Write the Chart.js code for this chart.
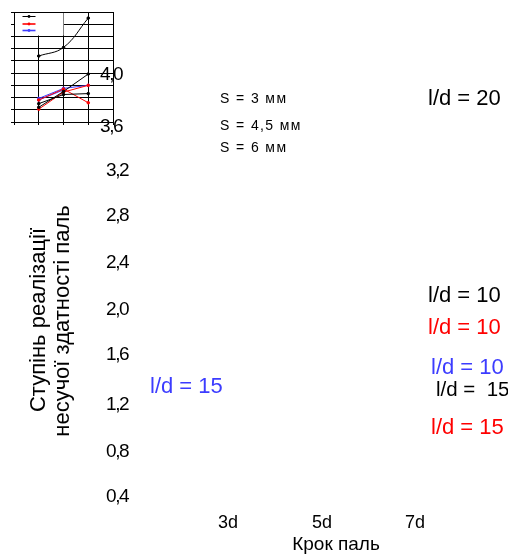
<!DOCTYPE html>
<html>
<head>
<meta charset="utf-8">
<script src="https://cdn.jsdelivr.net/npm/chart.js@4"></script>
<style>
  html, body { margin: 0; padding: 0; background: #fff; }
  #wrap { position: relative; width: 508px; height: 555px; }
</style>
</head>
<body>
<div id="wrap"><canvas id="graph1" width="508" height="555"></canvas></div>
<script>
// pile spacing (in d) and values
const steps = [3, 5, 7];
const blackLd20 = [2.56, 2.84, 3.80];
const blackLd10 = [0.88, 1.40, 1.97];
const blackLd15 = [1.00, 1.30, 1.33];
const redLd10 = [0.82, 1.38, 1.60];
const redLd15 = [1.12, 1.48, 1.03];
const blueLd10 = [1.17, 1.50, 1.60];
const blueLd15 = [1.12, 1.45];

const xGrid = [1, 3, 5, 7, 9];
const yGrid = [0.4, 0.8, 1.2, 1.6, 2.0, 2.4, 2.8, 3.2, 3.6, 4.0];
const yTickLabels = ['4,0', '3,6', '3,2', '2,8', '2,4', '2,0', '1,6', '1,2', '0,8', '0,4'];
const xTickLabels = ['3d', '5d', '7d'];
const legendNames = ['S = 3 мм', 'S = 4,5 мм', 'S = 6 мм'];

const BLACK = '#000000', RED = '#ff0000', BLUE = '#3c3cff';
const FONT = '"Liberation Sans", Arial, sans-serif';

function pts(vals) {
  return vals.map((v, i) => ({ x: steps[i], y: v }));
}

function series(vals, color, tension) {
  return {
    data: pts(vals),
    borderColor: color,
    backgroundColor: color,
    borderWidth: 1,
    pointRadius: 1.3,
    pointHoverRadius: 1.3,
    tension: tension || 0
  };
}

// texts sit where the original layout put them
const textPlugin = {
  id: 'texts',
  afterDraw(chart) {
    const ctx = chart.ctx;
    ctx.save();
    ctx.textBaseline = 'middle';
    ctx.fillStyle = BLACK;
    ctx.font = '19px ' + FONT;
    ctx.textAlign = 'right';
    ctx.letterSpacing = '-1.5px';
    const yPos = [75, 127, 171, 216, 263, 310, 355, 405, 452, 497];
    yTickLabels.forEach((t, i) => {
      ctx.fillText(t, i < 2 ? 122 : 128, yPos[i]);
    });
    ctx.letterSpacing = '0px';
    ctx.textAlign = 'center';
    ctx.font = '18px ' + FONT;
    const xPos = [228, 322, 415];
    xTickLabels.forEach((t, i) => ctx.fillText(t, xPos[i], 523));
    ctx.font = '19px ' + FONT;
    ctx.fillText('Крок паль', 336, 545);

    ctx.font = '22px ' + FONT;
    ctx.save();
    ctx.translate(39, 320);
    ctx.rotate(-Math.PI / 2);
    ctx.fillText('Ступінь реалізації', 0, 0);
    ctx.restore();
    ctx.save();
    ctx.translate(63, 321);
    ctx.rotate(-Math.PI / 2);
    ctx.fillText('несучої здатності паль', 0, 0);
    ctx.restore();

    ctx.textAlign = 'left';
    ctx.font = '14px ' + FONT;
    ctx.letterSpacing = '1.4px';
    ctx.fillText(legendNames[0], 220, 99);
    ctx.fillText(legendNames[1], 220, 126);
    ctx.fillText(legendNames[2], 220, 148);
    ctx.letterSpacing = '0px';

    const notes = [
      ['l/d = 20', 428, 99, BLACK, 22],
      ['l/d = 10', 428, 296, BLACK, 22],
      ['l/d = 10', 428, 328, RED, 22],
      ['l/d = 10', 431, 368, BLUE, 22],
      ['l/d =  15', 436, 390, BLACK, 20.5],
      ['l/d = 15', 431, 428, RED, 22],
      ['l/d = 15', 150, 387, BLUE, 22]
    ];
    notes.forEach(n => {
      ctx.font = n[4] + 'px ' + FONT;
      ctx.fillStyle = n[3];
      ctx.fillText(n[0], n[1], n[2]);
    });
    ctx.restore();
  }
};

// small legend box in the upper left corner of the plot
const legendBox = {
  id: 'legendBox',
  afterDatasetsDraw(chart) {
    const ctx = chart.ctx;
    const xs = chart.scales.x, ys = chart.scales.y;
    const l = xs.getPixelForValue(1), r = xs.getPixelForValue(5);
    const t = ys.getPixelForValue(4.0), b = ys.getPixelForValue(3.2);
    ctx.save();
    ctx.fillStyle = '#fff';
    ctx.fillRect(Math.round(l) + 1, Math.round(t) + 1, Math.round(r - l) - 1.5, Math.round(b - t) - 1.5);
    const cols = [BLACK, RED, BLUE];
    const rows = [4.5, 12, 18.5];
    cols.forEach((c, i) => {
      const y = t + rows[i];
      ctx.strokeStyle = c;
      ctx.lineWidth = i === 0 ? 1 : 1.6;
      ctx.beginPath();
      ctx.moveTo(l + 8.5, y);
      ctx.lineTo(l + 21.5, y);
      ctx.stroke();
      ctx.fillStyle = i === 0 ? BLACK : c;
      ctx.beginPath();
      ctx.arc(l + 15, y, 1.4, 0, Math.PI * 2);
      ctx.fill();
    });
    ctx.restore();
  }
};

const ctx = document.getElementById('graph1');
new Chart(ctx, {
  type: 'line',
  data: {
    datasets: [
      series(blackLd20, BLACK, 0.4),
      series(blackLd10, BLACK),
      series(blackLd15, BLACK),
      series(redLd10, RED),
      series(redLd15, RED),
      series(blueLd10, BLUE),
      series(blueLd15, BLUE)
    ]
  },
  options: {
    responsive: false,
    animation: false,
    layout: { padding: { left: 11, top: 12, right: 395, bottom: 430 } },
    plugins: { legend: { display: false }, tooltip: { enabled: false } },
    scales: {
      x: {
        type: 'linear',
        min: 1,
        max: 9,
        afterBuildTicks: axis => { axis.ticks = xGrid.map(v => ({ value: v })); },
        ticks: { display: false },
        grid: { color: BLACK, lineWidth: 1, drawTicks: true, tickLength: 3 },
        border: { color: BLACK, width: 1 }
      },
      y: {
        min: 0.4,
        max: 4.0,
        afterBuildTicks: axis => { axis.ticks = yGrid.map(v => ({ value: v })); },
        ticks: { display: false },
        grid: { color: BLACK, lineWidth: 1, drawTicks: true, tickLength: 3 },
        border: { color: BLACK, width: 1 }
      }
    }
  },
  plugins: [legendBox, textPlugin]
});
</script>
</body>
</html>
